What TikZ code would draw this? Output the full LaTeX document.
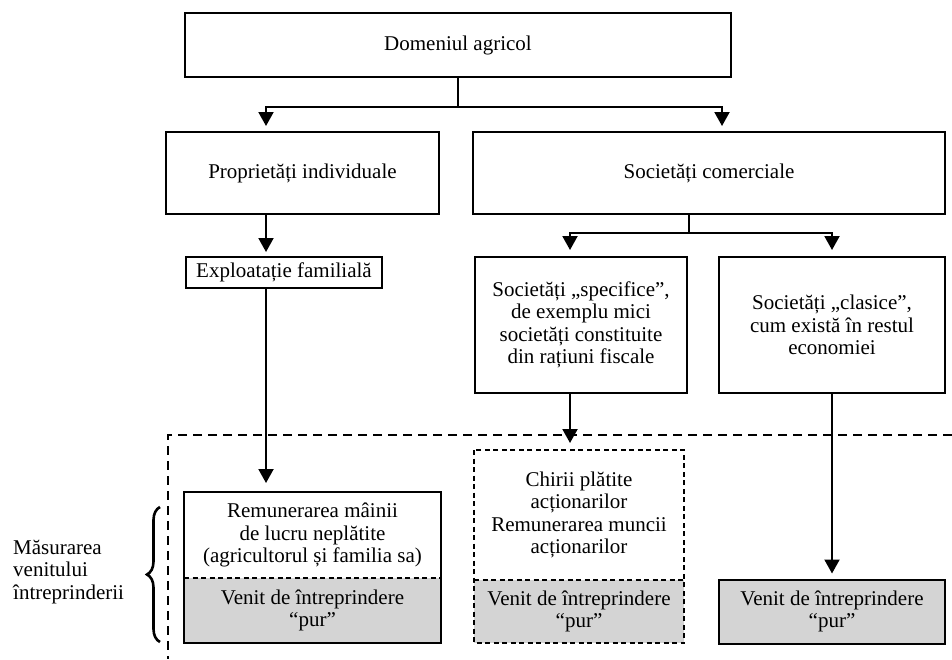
\documentclass[tikz,border=0pt]{standalone}
\usepackage{fontspec}
\setmainfont{Liberation Serif}
\usetikzlibrary{arrows.meta,positioning,calc,decorations.pathreplacing}

\begin{document}
\begin{tikzpicture}[
  x=1pt, y=-1pt,
  font=\fontsize{21}{22.5}\selectfont,
  box/.style={draw, line width=2pt, align=center, inner sep=0pt, outer sep=0pt},
  half/.style={align=center, inner sep=0pt, outer sep=0pt},
  shade/.style={fill=black!17},
  link/.style={line width=2pt},
  arr/.style={-{Triangle[width=15pt,length=14pt]}, line width=2pt},
  frame/.style={line width=2pt},
  sep/.style={line width=2pt, dash pattern=on 5pt off 3.5pt},
  dashframe/.style={line width=2pt, dash pattern=on 5pt off 3.5pt},
  zone/.style={line width=2pt, dash pattern=on 9pt off 6pt},
  sidenote/.style={align=left, inner sep=0pt, anchor=west}
]
  \useasboundingbox (0,0) rectangle (952,659);

  % upper tree
  \node[box, minimum width=546pt, minimum height=64pt] (dom) at (458,45) {Domeniul agricol};
  \node[box, minimum width=273pt, minimum height=82pt] (propr) at (302.5,173) {Proprietăți individuale};
  \node[box, minimum width=472pt, minimum height=82pt] (comm) at (709,173) {Societăți comerciale};
  \node[box, minimum width=196pt, minimum height=31pt] (expl) at (284,272.5) {Exploatație familială};
  \node[box, minimum width=212pt, minimum height=136pt] (spec) at (581,325)
    {Societăți „specifice”,\\de exemplu mici\\societăți constituite\\din rațiuni fiscale};
  \node[box, minimum width=226pt, minimum height=136pt] (clas) at (832,325)
    {Societăți „clasice”,\\cum există în restul\\economiei};

  % measured zone
  \draw[zone] (952,435) -| (168,659);

  \node[half, minimum width=257pt, minimum height=86pt] (remun) at (312.5,535)
    {Remunerarea mâinii\\de lucru neplătite\\(agricultorul și familia sa)};
  \node[half, shade, minimum width=257pt, minimum height=65pt] (venA) at (312.5,610.5)
    {Venit de întreprindere\\“pur”};
  \draw[frame] (remun.north west) rectangle (venA.south east);
  \draw[sep] (venA.north west) -- (venA.north east);

  \node[half, minimum width=210pt, minimum height=130pt] (chirii) at (579,515)
    {Chirii plătite\\acționarilor\\Remunerarea muncii\\acționarilor};
  \node[half, shade, minimum width=210pt, minimum height=63pt] (venB) at (579,611.5)
    {Venit de întreprindere\\“pur”};
  \draw[dashframe] (chirii.north west) rectangle (venB.south east);
  \draw[sep] (venB.north west) -- (venB.north east);

  \node[box, shade, minimum width=226pt, minimum height=64pt] (venC) at (832,611.5)
    {Venit de întreprindere\\“pur”};

  \node[sidenote] (meas) at (13,572) {Măsurarea\\venitului\\întreprinderii};
  \coordinate (brT) at (160,507);
  \coordinate (brB) at (160,642);
  \draw[line width=2.6pt, decorate, decoration={brace, amplitude=13pt}] (brB) -- (brT);

  % connectors
  \coordinate (forkA) at (458,107);
  \coordinate (forkB) at (689,233);
  \coordinate (colA) at (266,0);
  \coordinate (colR) at (722,0);
  \coordinate (colB) at (570,0);

  \draw[link] (dom.south) -- (forkA);
  \draw[arr, shorten >=6pt] (forkA) -| (propr.north -| colA);
  \draw[arr, shorten >=6pt] (forkA) -| (comm.north -| colR);
  \draw[link] (comm.south -| forkB) -- (forkB);
  \draw[arr, shorten >=7pt] (forkB) -| (spec.north -| colB);
  \draw[arr, shorten >=7pt] (forkB) -| (clas.north);
  \draw[arr, shorten >=5pt] (propr.south -| colA) -- (expl.north -| colA);
  \draw[arr, shorten >=9pt] (expl.south -| colA) -- (remun.north -| colA);
  \draw[arr, shorten >=7pt] (spec.south -| colB) -- (chirii.north -| colB);
  \draw[arr, shorten >=6pt] (clas.south) -- (venC.north);
\end{tikzpicture}
\end{document}
